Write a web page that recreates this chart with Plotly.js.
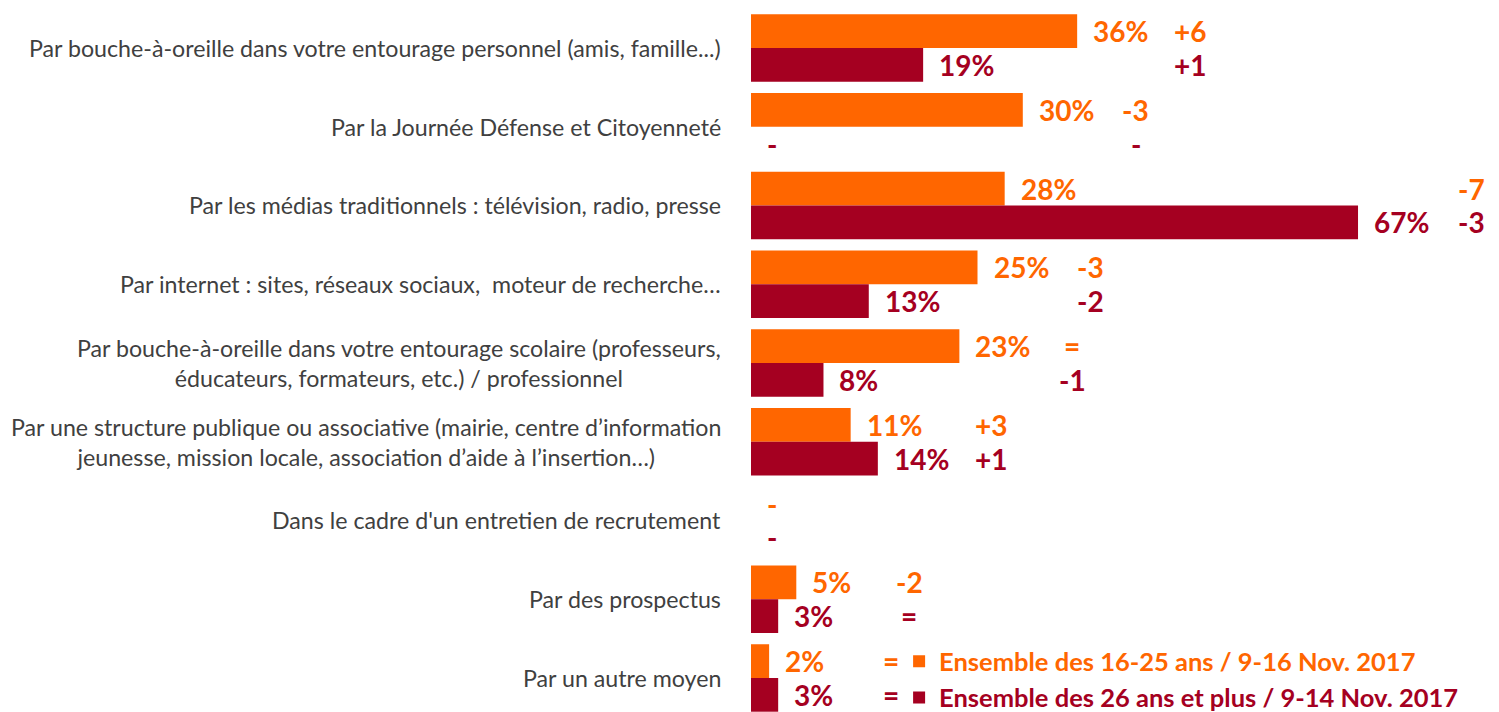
<!DOCTYPE html>
<html>
<head>
<meta charset="utf-8">
<script src="https://cdn.plot.ly/plotly-3.0.1.min.js"></script>
<style>html,body{margin:0;padding:0;background:#fff;}#chart{width:1499px;height:712px;}</style>
</head>
<body>
<div id="chart"></div>
<script>
const categories = [
  "Par bouche-à-oreille dans votre entourage personnel (amis, famille...)",
  "Par la Journée Défense et Citoyenneté",
  "Par les médias traditionnels : télévision, radio, presse",
  "Par internet : sites, réseaux sociaux,  moteur de recherche…",
  "Par bouche-à-oreille dans votre entourage scolaire (professeurs,<br>éducateurs, formateurs, etc.) / professionnel",
  "Par une structure publique ou associative (mairie, centre d’information<br>jeunesse, mission locale, association d’aide à l’insertion…)",
  "Dans le cadre d'un entretien de recrutement",
  "Par des prospectus",
  "Par un autre moyen"
];
const seriesNames = ["Ensemble des 16-25 ans / 9-16 Nov. 2017", "Ensemble des 26 ans et plus / 9-14 Nov. 2017"];
const young = [36, 30, 28, 25, 23, 11, null, 5, 2];
const older = [19, null, 67, 13, 8, 14, null, 3, 3];
const youngDiff = ["+6", "-3", "-7", "-3", "=", "+3", "", "-2", "="];
const olderDiff = ["+1", "-", "-3", "-2", "-1", "+1", "", "=", "="];

const ORANGE = "#FF6600", RED = "#A50021";
const FONT = "Lato, 'Open Sans', sans-serif";

const yIdx = categories.map((c, i) => i);

const traces = [
  {type: "bar", orientation: "h",
   name: '<b><span style="color:' + ORANGE + '">' + seriesNames[0] + '</span></b>',
   y: yIdx, x: young, marker: {color: ORANGE}, hoverinfo: "x"},
  {type: "bar", orientation: "h",
   name: '<b><span style="color:' + RED + '">' + seriesNames[1] + '</span></b>',
   y: yIdx, x: older, marker: {color: RED}, hoverinfo: "x"}
];

const annotations = [];
const labFont = (c) => ({family: FONT, size: 28, color: c});
const half = 0.2145; // offset of each bar in category units
categories.forEach((c, i) => {
  annotations.push({xref: "paper", yref: "y", x: 0, y: i, xanchor: "right", yanchor: "middle",
    xshift: -28, text: c, showarrow: false, align: "center", font: {family: FONT, size: 23.2, color: "#404040"}});
  const series = [[young, youngDiff, ORANGE, -half], [older, olderDiff, RED, half]];
  const vals = [young[i], older[i]].filter(v => v != null);
  const mx = vals.length ? Math.max(...vals) : 0;
  series.forEach(([vArr, dArr, col, off]) => {
    const v = vArr[i];
    annotations.push({xref: "x", yref: "y", x: v == null ? 0 : v, y: i + off, xanchor: "left", yanchor: "middle",
      xshift: 14, text: "<b>" + (v == null ? "-" : v + "%") + "</b>", showarrow: false, font: labFont(col)});
    if (dArr[i]) {
      annotations.push({xref: "x", yref: "y", x: mx, y: i + off, xanchor: "center", yanchor: "middle",
        xshift: 113, text: "<b>" + dArr[i] + "</b>", showarrow: false, font: labFont(col)});
    }
  });
});

const layout = {
  width: 1499, height: 712,
  margin: {l: 751, r: 0, t: 0, b: 0, autoexpand: false},
  paper_bgcolor: "#fff", plot_bgcolor: "#fff",
  barmode: "group", bargap: 0.143, bargroupgap: 0,
  showlegend: true,
  legend: {x: 0.198, y: -0.013, xanchor: "left", yanchor: "bottom", traceorder: "normal",
    font: {family: FONT, size: 25.5}, bgcolor: "rgba(0,0,0,0)", itemwidth: 30},
  xaxis: {range: [0, 82.56], visible: false, fixedrange: true},
  yaxis: {range: [8.432, -0.6095], showticklabels: false, showgrid: false, zeroline: false, showline: false, ticks: "", fixedrange: true},
  annotations: annotations,
  font: {family: FONT}
};

Plotly.newPlot("chart", traces, layout, {displayModeBar: false, staticPlot: true});
</script>
</body>
</html>
